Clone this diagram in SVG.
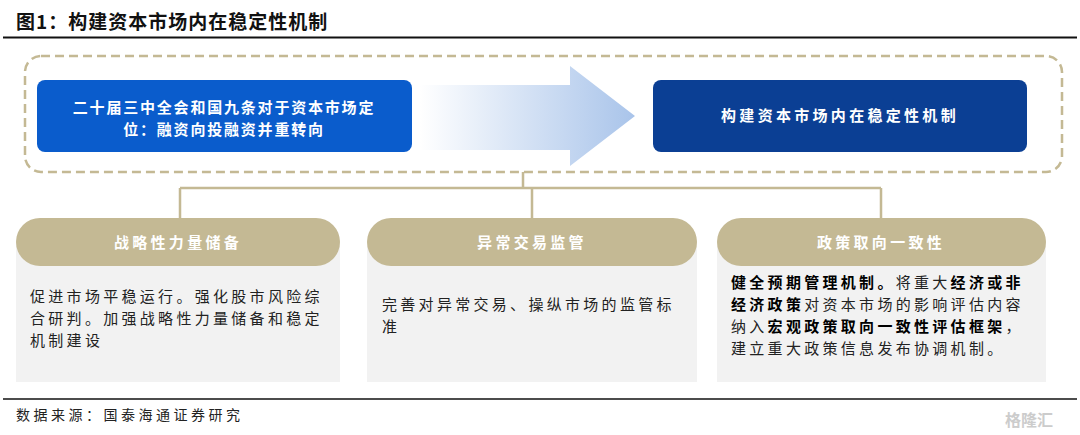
<svg xmlns="http://www.w3.org/2000/svg" width="1080" height="435" viewBox="0 0 1080 435">
<defs>
<linearGradient id="g" x1="0" x2="1" y1="0" y2="0"><stop offset="0" stop-color="#a9c4ea" stop-opacity="0"/><stop offset="1" stop-color="#a9c4ea"/></linearGradient>
<style>
.t{font-family:"Noto Sans CJK SC","Liberation Serif",serif}
.h{fill:#c4b994}.b{fill:#f2f2f2}
.w{fill:#fff;font-size:15px;font-weight:bold;text-anchor:middle}
.p{font-size:15px;fill:#222;letter-spacing:3.3px}
.c{stroke:#c4b994;stroke-width:2.5;fill:none}
</style>
</defs>
<rect width="1080" height="435" fill="#fff"/>
<text class="t" x="16" y="29" font-size="19" font-weight="bold" fill="#111" letter-spacing="1">图1：构建资本市场内在稳定性机制</text>
<line x1="3" y1="37.5" x2="1077" y2="37.5" stroke="#111" stroke-width="2"/>
<rect x="25" y="56" width="1037" height="116" rx="16" fill="none" stroke="#c4b994" stroke-width="2.5" stroke-dasharray="9,5"/>
<g id="arrow"><polygon points="420,85 570,85 570,66 635,116 570,166 570,150 420,150" fill="url(#g)"/></g>
<g id="left"><rect x="37" y="80" width="375" height="72" rx="8" fill="#0a5ccc"/>
<text class="t w" x="224" y="113" letter-spacing="1.8">二十届三中全会和国九条对于资本市场定</text><text class="t w" x="224" y="135" letter-spacing="1.8">位：融资向投融资并重转向</text></g>
<g id="right"><rect x="653" y="80" width="374" height="72" rx="8" fill="#0b3f94"/>
<text class="t w" x="840" y="121" letter-spacing="3.3">构建资本市场内在稳定性机制</text></g>
<g id="connectors">
<path class="c" d="M523 172V188M180 188H881M180 188V218M532 188V218M881 188V218"/>
</g>
<g id="c1"><rect class="b" x="16" y="240" width="324" height="142"/><rect class="h" x="16" y="218" width="324" height="48" rx="24"/>
<text class="t w" x="178" y="248" letter-spacing="3.3">战略性力量储备</text>
<text class="t p" x="30" y="302">促进市场平稳运行。强化股市风险综</text><text class="t p" x="30" y="324">合研判。加强战略性力量储备和稳定</text><text class="t p" x="30" y="346">机制建设</text></g>
<g id="c2"><rect class="b" x="367" y="240" width="330" height="142"/><rect class="h" x="367" y="218" width="330" height="48" rx="24"/>
<text class="t w" x="532" y="248" letter-spacing="3.3">异常交易监管</text>
<text class="t p" x="382" y="310">完善对异常交易、操纵市场的监管标</text><text class="t p" x="382" y="332">准</text></g>
<g id="c3"><rect class="b" x="717" y="240" width="329" height="142"/><rect class="h" x="717" y="218" width="329" height="48" rx="24"/>
<text class="t w" x="881" y="248" letter-spacing="3.3">政策取向一致性</text>
<text class="t p" x="731" y="288"><tspan font-weight="bold" fill="#000">健全预期管理机制。</tspan>将重大<tspan font-weight="bold" fill="#000">经济或非</tspan></text>
<text class="t p" x="731" y="310"><tspan font-weight="bold" fill="#000">经济政策</tspan>对资本市场的影响评估内容</text>
<text class="t p" x="731" y="332">纳入<tspan font-weight="bold" fill="#000">宏观政策取向一致性评估框架</tspan>，</text>
<text class="t p" x="731" y="354">建立重大政策信息发布协调机制。</text></g>
<line x1="3" y1="399" x2="1077" y2="399" stroke="#111" stroke-width="1.5"/>
<text class="t" x="16" y="420" font-size="14" fill="#222" letter-spacing="3.5">数据来源：国泰海通证券研究</text>
<text class="t" x="1005" y="426" font-size="16" fill="#ccc" font-weight="bold">格隆汇</text>
</svg>
